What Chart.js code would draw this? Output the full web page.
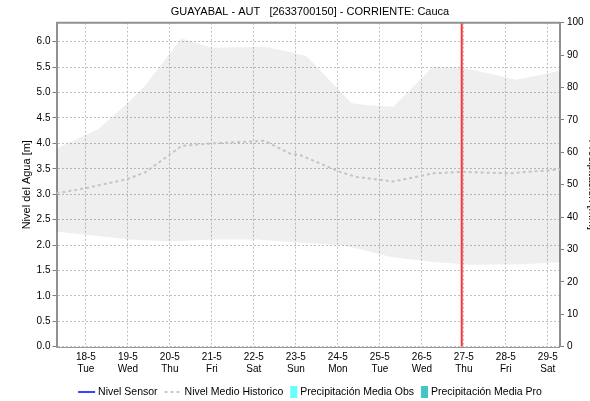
<!DOCTYPE html>
<html>
<head>
<meta charset="utf-8">
<script src="https://cdn.jsdelivr.net/npm/chart.js@4.4.1/dist/chart.umd.min.js"></script>
<style>
  html, body { margin: 0; padding: 0; background: #fff; overflow: hidden; }
  #wrap { width: 620px; height: 401px; }
</style>
</head>
<body>
<div id="wrap"><canvas id="nivel" width="620" height="401"></canvas></div>
<script>
// eje x en días contados desde 18-5 (0 = 18-5 ... 11 = 29-5)
const dateLabels = ["18-5", "19-5", "20-5", "21-5", "22-5", "23-5", "24-5", "25-5", "26-5", "27-5", "28-5", "29-5"];
const dayNames   = ["Tue", "Wed", "Thu", "Fri", "Sat", "Sun", "Mon", "Tue", "Wed", "Thu", "Fri", "Sat"];

// banda histórica: máximo
const maxDays  = [-0.70, 0.29, 1.00, 1.40, 2.28, 2.99, 4.26, 4.86, 5.25, 6.33, 6.76, 7.32, 8.27, 8.98, 10.25, 11.29];
const maxLevel = [3.90, 4.28, 4.80, 5.13, 6.07, 5.88, 5.90, 5.80, 5.72, 4.79, 4.75, 4.72, 5.51, 5.49, 5.25, 5.43];
// banda histórica: mínimo
const minDays  = [-0.70, 0.00, 1.05, 2.00, 3.02, 4.05, 5.00, 6.05, 6.50, 7.24, 8.19, 9.14, 10.40, 11.29];
const minLevel = [2.26, 2.20, 2.11, 2.07, 2.11, 2.11, 2.05, 2.00, 1.92, 1.77, 1.67, 1.61, 1.62, 1.66];
// nivel medio histórico
const meanDays  = [-0.70, 0.00, 1.00, 1.43, 2.28, 3.02, 4.26, 4.86, 5.10, 6.05, 6.44, 7.32, 8.27, 8.95, 10.10, 11.29];
const meanLevel = [3.02, 3.12, 3.30, 3.44, 3.95, 4.00, 4.05, 3.80, 3.77, 3.44, 3.34, 3.25, 3.41, 3.44, 3.41, 3.49];
// sensor y precipitación sin datos en el periodo
const sensorDays = [];
const sensorLevel = [];
const precipObs = [];
const precipPro = [];
// momento actual
const nowDay = 8.95;

const xMin = -0.70, xMax = 11.29;
const levelMax = 6.374, precipMax = 100;

const pts = (xs, ys) => xs.map((x, i) => ({ x, y: ys[i] }));

const legendItems = [
  { text: "Nivel Sensor", kind: "line", color: "#0000ff", dash: [] },
  { text: "Nivel Medio Historico", kind: "line", color: "#c8c8c8", dash: [3, 3] },
  { text: "Precipitación Media Obs", kind: "box", color: "#66ffff" },
  { text: "Precipitación Media Pro", kind: "box", color: "#44c4c4" }
];

const font = "Liberation Sans, Arial, sans-serif";
Chart.defaults.font.family = font;
Chart.defaults.font.size = 10;
Chart.defaults.color = "#000";

// marco superior, línea base punteada y leyenda
const frame = {
  id: "frame",
  afterDatasetsDraw(chart) {
    const { ctx, chartArea: a } = chart;
    ctx.save();
    ctx.strokeStyle = "#909090";
    ctx.lineWidth = 2;
    ctx.beginPath();
    ctx.moveTo(a.left, a.top);
    ctx.lineTo(a.right, a.top);
    ctx.stroke();
    ctx.strokeStyle = "#333";
    ctx.lineWidth = 1;
    ctx.setLineDash([1, 1]);
    ctx.beginPath();
    ctx.moveTo(a.left, Math.round(a.bottom) + 0.5);
    ctx.lineTo(a.right, Math.round(a.bottom) + 0.5);
    ctx.stroke();
    ctx.restore();
  },
  afterDraw(chart) {
    const ctx = chart.ctx;
    ctx.save();
    ctx.font = "10.5px " + font;
    ctx.textBaseline = "middle";
    const symW = it => (it.kind === "line" ? 17 : 7);
    const gap = 3, itemGap = 7;
    let total = 0;
    legendItems.forEach((it, i) => {
      total += symW(it) + gap + ctx.measureText(it.text).width + (i ? itemGap : 0);
    });
    let x = chart.width / 2 - total / 2;
    const y = 392;
    legendItems.forEach(it => {
      if (it.kind === "line") {
        ctx.strokeStyle = it.color;
        ctx.lineWidth = it.dash.length ? 2 : 1.5;
        ctx.setLineDash(it.dash);
        ctx.beginPath();
        ctx.moveTo(x, y);
        ctx.lineTo(x + 17, y);
        ctx.stroke();
        ctx.setLineDash([]);
      } else {
        ctx.fillStyle = it.color;
        ctx.fillRect(x, y - 6, 7, 12);
      }
      x += symW(it) + gap;
      ctx.fillStyle = "#000";
      ctx.fillText(it.text, x, y + 0.5);
      x += ctx.measureText(it.text).width + itemGap;
    });
    ctx.restore();
  }
};

new Chart(document.getElementById("nivel"), {
  type: "line",
  data: {
    datasets: [
      {
        label: "Ahora",
        data: [{ x: nowDay, y: 0 }, { x: nowDay, y: levelMax }],
        borderColor: "#ff3535",
        borderWidth: 2,
        pointRadius: 0,
        yAxisID: "y"
      },
      {
        label: "Nivel Sensor",
        data: pts(sensorDays, sensorLevel),
        borderColor: "#0000ff",
        borderWidth: 1.5,
        pointRadius: 0,
        yAxisID: "y"
      },
      {
        label: "Nivel Medio Historico",
        data: pts(meanDays, meanLevel),
        borderColor: "#c4c4c4",
        borderWidth: 2,
        borderDash: [3, 3],
        pointRadius: 0,
        tension: 0,
        yAxisID: "y"
      },
      {
        label: "Máximo",
        data: pts(maxDays, maxLevel),
        borderWidth: 0,
        borderColor: "rgba(0,0,0,0)",
        backgroundColor: "rgba(0,0,0,0.063)",
        pointRadius: 0,
        fill: "+1",
        yAxisID: "y"
      },
      {
        label: "Mínimo",
        data: pts(minDays, minLevel),
        borderWidth: 0,
        borderColor: "rgba(0,0,0,0)",
        pointRadius: 0,
        fill: false,
        yAxisID: "y"
      },
      {
        type: "bar",
        label: "Precipitación Media Obs",
        data: precipObs,
        backgroundColor: "#66ffff",
        yAxisID: "y1"
      },
      {
        type: "bar",
        label: "Precipitación Media Pro",
        data: precipPro,
        backgroundColor: "#44c4c4",
        yAxisID: "y1"
      }
    ]
  },
  options: {
    responsive: false,
    animation: false,
    layout: { padding: { top: 0, bottom: 24, left: 0, right: 0 } },
    plugins: {
      legend: { display: false },
      tooltip: { enabled: false },
      title: {
        display: true,
        text: "GUAYABAL - AUT   [2633700150] - CORRIENTE: Cauca",
        color: "#000",
        font: { size: 11, weight: "normal" },
        padding: { top: 5.5, bottom: 4 }
      }
    },
    scales: {
      x: {
        type: "linear",
        offset: false,
        min: xMin,
        max: xMax,
        afterBuildTicks: s => {
          s.ticks = dateLabels.map((_, i) => ({ value: i }));
        },
        afterFit: s => { s.height = 30.3; },
        ticks: {
          autoSkip: false,
          maxRotation: 0,
          padding: 5,
          font: { size: 10 },
          callback: v => (Number.isInteger(v) && dateLabels[v] ? [dateLabels[v], dayNames[v]] : "")
        },
        grid: { color: "#c0c0c0", drawTicks: false, offset: false },
        border: { display: false, dash: [2, 2] }
      },
      y: {
        position: "left",
        min: 0,
        max: levelMax,
        afterBuildTicks: s => {
          s.ticks = s.ticks.filter(t => Math.abs(t.value * 2 - Math.round(t.value * 2)) < 1e-6);
        },
        afterFit: s => { s.width = 56.5; },
        ticks: {
          stepSize: 0.5,
          padding: 2,
          callback: v => v.toFixed(1)
        },
        grid: {
          color: "#c0c0c0",
          tickColor: "#808080",
          tickLength: 4,
          tickBorderDash: [],
          tickBorderDashOffset: 0
        },
        border: { display: true, color: "#909090", width: 2, dash: [2, 2] },
        title: {
          display: true,
          text: "Nivel del Agua [m]",
          font: { size: 11 },
          color: "#000",
          padding: { top: 20, bottom: 0 }
        }
      },
      y1: {
        position: "right",
        display: true,
        min: 0,
        max: precipMax,
        afterFit: s => { s.width = 60; },
        ticks: { stepSize: 10, padding: 3 },
        grid: { drawOnChartArea: false, tickColor: "#808080", tickLength: 4 },
        border: { display: true, color: "#909090", width: 2 },
        title: {
          display: true,
          text: "Precipitación [mm]",
          font: { size: 11 },
          color: "#000",
          padding: { top: 21, bottom: 0 }
        }
      }
    }
  },
  plugins: [frame]
});
</script>
</body>
</html>
